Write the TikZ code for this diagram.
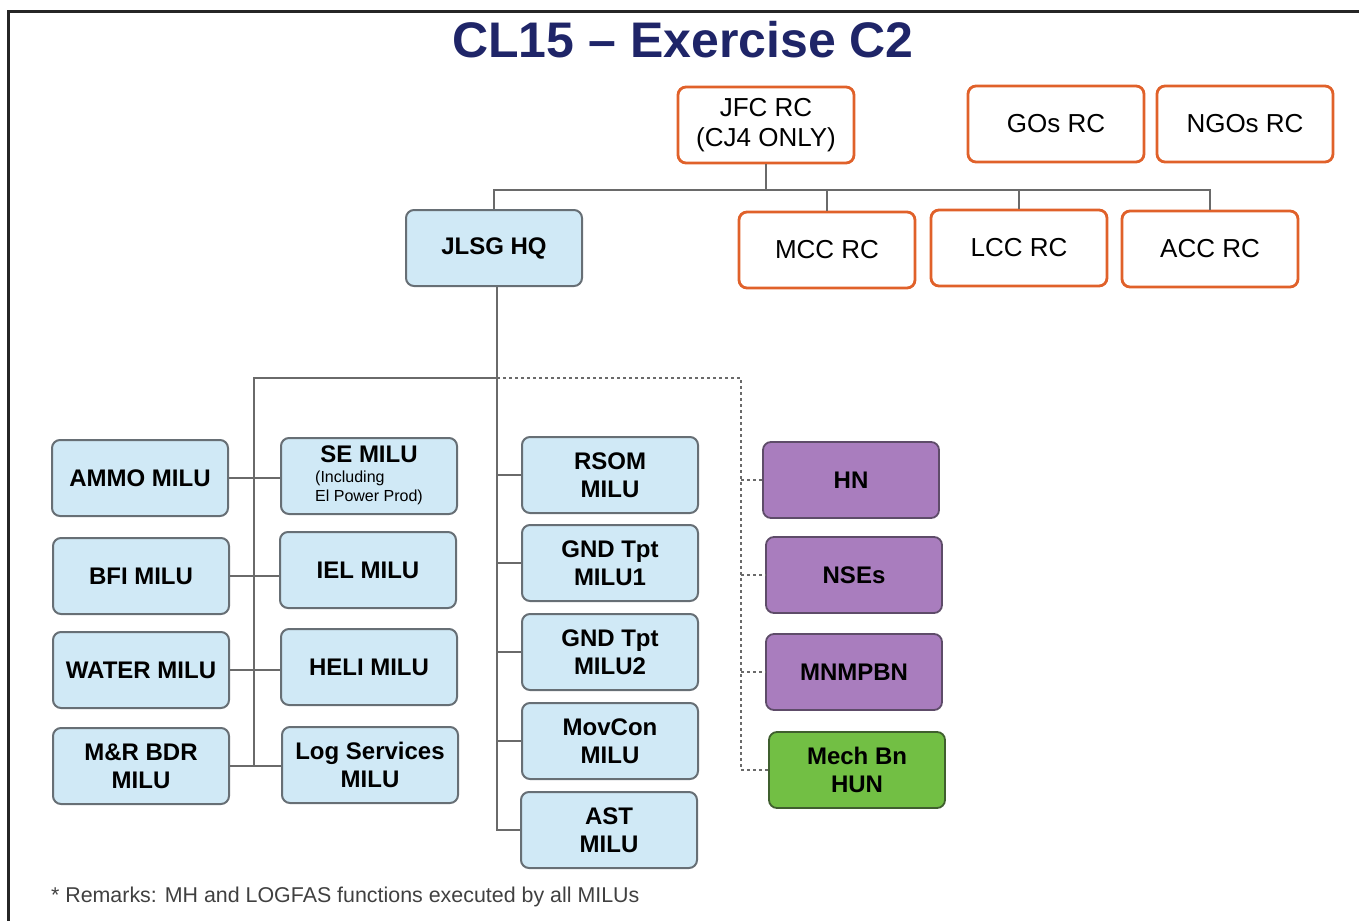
\documentclass[tikz,border=0pt]{standalone}
\usepackage{fontspec}
\setmainfont{Liberation Sans}
\usetikzlibrary{positioning}
\definecolor{titleblue}{HTML}{1F2568}
\definecolor{rcorange}{HTML}{E0612A}
\definecolor{milublue}{HTML}{D0E9F6}
\definecolor{milugray}{HTML}{676F75}
\definecolor{hnpurple}{HTML}{A97DBE}
\definecolor{hnborder}{HTML}{5E4C69}
\definecolor{hungreen}{HTML}{72BF44}
\definecolor{hunborder}{HTML}{3F5F2E}
\definecolor{linegray}{HTML}{6A6A6A}
\tikzset{
    box/.style={rectangle, rounded corners=4pt, align=center,
        minimum width=88pt, minimum height=38pt, inner sep=1pt,
        font=\bfseries\fontsize{12}{14}\selectfont},
    rcbox/.style={box, draw=rcorange, line width=1.4pt, fill=white,
        font=\fontsize{13}{15}\selectfont},
    milu/.style={box, draw=milugray, line width=1pt, fill=milublue},
    hnbox/.style={box, draw=hnborder, line width=0.9pt, fill=hnpurple},
    hunbox/.style={box, draw=hunborder, line width=0.9pt, fill=hungreen},
    link/.style={draw=linegray, line width=1pt},
    dotlink/.style={draw=linegray, line width=0.8pt, dash pattern=on 1.5pt off 1.5pt}
}

\begin{document}
\begin{tikzpicture}[x=0.5pt, y=-0.5pt]
    \useasboundingbox (0,0) rectangle (1359,921);
    \draw[line width=1.5pt, color=black!85] (1359,11) -- (8,11) -- (8,921);

    \node[font=\bfseries\fontsize{25}{30}\selectfont, text=titleblue] (title) at (683,40) {CL15 -- Exercise C2};

    % top level
    \node[rcbox] (jfc) at (766,125) {JFC RC\\(CJ4 ONLY)};
    \node[rcbox] (gos) at (1056,124) {GOs RC};
    \node[rcbox] (ngos) at (1245,124) {NGOs RC};
    \node[milu] (jlsg) at (494,248) {JLSG HQ};
    \node[rcbox] (mcc) at (827,250) {MCC RC};
    \node[rcbox] (lcc) at (1019,248) {LCC RC};
    \node[rcbox] (acc) at (1210,249) {ACC RC};

    % milus
    \node[milu] (ammo) at (140,478) {AMMO MILU};
    \node[milu] (bfi) at (141,576) {BFI MILU};
    \node[milu] (water) at (141,670) {WATER MILU};
    \node[milu] (mr) at (141,766) {M\&R BDR\\MILU};
    \node[milu] (se) at (369,476) {SE MILU\\[-4pt]{\mdseries\fontsize{8}{9.5}\selectfont
        \begin{tabular}[t]{@{}l@{}}(Including\\ El Power Prod)\end{tabular}}};
    \node[milu] (iel) at (368,570) {IEL MILU};
    \node[milu] (heli) at (369,667) {HELI MILU};
    \node[milu] (logs) at (370,765) {Log Services\\MILU};
    \node[milu] (rsom) at (610,475) {RSOM\\MILU};
    \node[milu] (gnd1) at (610,563) {GND Tpt\\MILU1};
    \node[milu] (gnd2) at (610,652) {GND Tpt\\MILU2};
    \node[milu] (movcon) at (610,741) {MovCon\\MILU};
    \node[milu] (ast) at (609,830) {AST\\MILU};

    % national
    \node[hnbox] (hn) at (851,480) {HN};
    \node[hnbox] (nse) at (854,575) {NSEs};
    \node[hnbox] (mnmp) at (854,672) {MNMPBN};
    \node[hunbox] (mech) at (857,770) {Mech Bn\\HUN};

    \node[anchor=west, font=\fontsize{10.7}{12}\selectfont, text=black!75] (remark) at (44,897)
        {* Remarks: MH and LOGFAS functions executed by all MILUs};

    % connectors
    \coordinate (bus) at (770,190);
    \draw[link] (jfc.south) -- (jfc.south |- bus);
    \draw[link] (jlsg.north) -- (jlsg.north |- bus) -- (acc.north |- bus) -- (acc.north);
    \foreach \n in {mcc,lcc}
        \draw[link] (\n.north) -- (\n.north |- bus);

    \coordinate (split) at (497,378);
    \coordinate (lbus) at (254,378);
    \coordinate (dbus) at (741,378);
    \draw[link] (split |- jlsg.south) -- (split |- ast.west) -- (ast.west);
    \foreach \n in {rsom,gnd1,gnd2,movcon}
        \draw[link] (split |- \n.west) -- (\n.west);
    \draw[link] (split) -- (lbus) -- (lbus |- mr.east);
    \foreach \a/\b in {ammo/se,bfi/iel,water/heli,mr/logs}
        \draw[link] (\a.east) -- (\a.east -| \b.west);
    \draw[dotlink] (split) -- (dbus) -- (dbus |- mech.west) -- (mech.west);
    \foreach \n in {hn,nse,mnmp}
        \draw[dotlink] (dbus |- \n.west) -- (\n.west);
\end{tikzpicture}
\end{document}
